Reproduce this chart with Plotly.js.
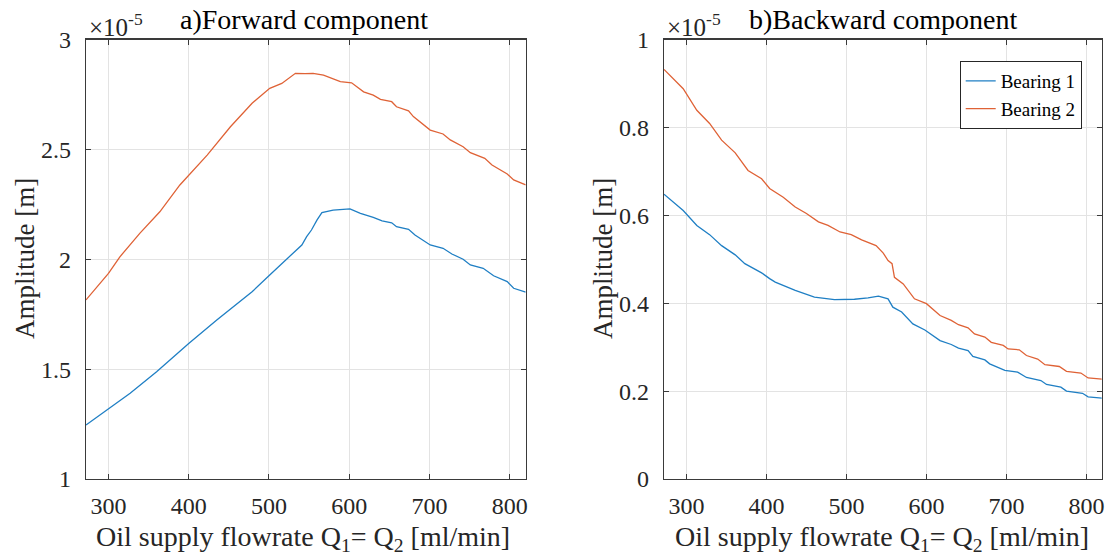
<!DOCTYPE html>
<html>
<head>
<meta charset="utf-8">
<script src="https://cdn.plot.ly/plotly-3.0.1.min.js"></script>
<style>
  html, body { margin: 0; padding: 0; background: #ffffff; }
  #chart { width: 1106px; height: 560px; }
</style>
</head>
<body>
<div id="chart"></div>
<script>
// ---------- DATA (amplitudes in units of 1e-5 m) ----------
var seriesNames = ["Bearing 1", "Bearing 2"];

// a) Forward component
var fwdX1 = [272, 298, 327, 360, 400, 435, 479, 500, 522, 541, 547, 553, 560, 566, 580, 601, 614, 630, 641, 653, 659, 674, 682, 701, 717, 728, 742, 751, 767, 780, 797, 805, 820];
var fwdB1 = [1.246, 1.314, 1.390, 1.488, 1.617, 1.724, 1.852, 1.925, 2.000, 2.065, 2.103, 2.133, 2.179, 2.212, 2.224, 2.229, 2.209, 2.191, 2.175, 2.166, 2.148, 2.136, 2.110, 2.065, 2.050, 2.024, 2.000, 1.974, 1.959, 1.925, 1.898, 1.868, 1.850];

var fwdX2 = [272, 294, 300, 314, 339, 364, 389, 423, 452, 479, 501, 516, 533, 545, 555, 568, 589, 603, 618, 630, 639, 653, 659, 674, 680, 701, 717, 726, 742, 751, 769, 778, 797, 805, 820];
var fwdB2 = [1.815, 1.913, 1.936, 2.010, 2.118, 2.216, 2.338, 2.474, 2.603, 2.710, 2.778, 2.800, 2.846, 2.845, 2.846, 2.838, 2.808, 2.803, 2.762, 2.747, 2.728, 2.717, 2.694, 2.675, 2.649, 2.588, 2.570, 2.543, 2.512, 2.485, 2.459, 2.429, 2.388, 2.361, 2.338];

// b) Backward component
var bwdX1 = [272, 296, 313, 329, 344, 361, 373, 394, 404, 411, 436, 460, 485, 510, 527, 540, 552, 558, 569, 583, 598, 617, 631, 640, 652, 658, 673, 679, 698, 714, 725, 743, 750, 768, 775, 795, 802, 820];
var bwdB1 = [0.648, 0.611, 0.577, 0.556, 0.531, 0.510, 0.490, 0.469, 0.456, 0.448, 0.429, 0.414, 0.408, 0.409, 0.412, 0.416, 0.410, 0.391, 0.380, 0.353, 0.339, 0.315, 0.306, 0.298, 0.292, 0.279, 0.271, 0.262, 0.247, 0.243, 0.231, 0.224, 0.215, 0.209, 0.200, 0.195, 0.187, 0.184];

var bwdX2 = [272, 296, 313, 329, 344, 361, 377, 394, 404, 421, 436, 450, 465, 477, 492, 506, 519, 537, 546, 552, 557, 560, 571, 585, 600, 617, 631, 640, 652, 660, 673, 681, 696, 702, 716, 725, 739, 748, 766, 775, 793, 802, 820];
var bwdB2 = [0.932, 0.888, 0.839, 0.809, 0.771, 0.742, 0.702, 0.683, 0.661, 0.641, 0.619, 0.604, 0.585, 0.577, 0.562, 0.556, 0.544, 0.531, 0.514, 0.497, 0.490, 0.459, 0.444, 0.410, 0.399, 0.372, 0.361, 0.351, 0.344, 0.330, 0.323, 0.311, 0.304, 0.296, 0.294, 0.281, 0.273, 0.260, 0.256, 0.245, 0.241, 0.230, 0.227];

var xTickVals = [300, 400, 500, 600, 700, 800];
var fwdTickVals = [1, 1.5, 2, 2.5, 3];
var bwdTickVals = [0, 0.2, 0.4, 0.6, 0.8, 1];

var titleA = "a)Forward component";
var titleB = "b)Backward component";
var xTitle = "Oil supply flowrate Q<sub>1</sub>= Q<sub>2</sub> [ml/min]";
var yTitle = "Amplitude [m]";
var expLabel = "×10<sup>-5</sup>";

// ---------- STYLE ----------
var W = 1106, H = 560;
var FONT = "Liberation Serif";
var INK = "#262626";
var colB1 = "#1f7fc4";
var colB2 = "#df6236";
function px(x) { return x / W; }
function py(y) { return 1 - y / H; }

function ax(extra) {
  var base = {
    showline: true, linecolor: "#3a3a3a", linewidth: 1.2, mirror: "ticks",
    ticks: "inside", ticklen: 5, tickwidth: 1, tickcolor: "#3a3a3a",
    showgrid: true, gridcolor: "#e3e3e3", gridwidth: 1,
    zeroline: false, automargin: false, fixedrange: true,
    tickfont: { family: FONT, size: 24, color: INK }
  };
  return Object.assign(base, extra);
}

var traces = [
  { x: fwdX1, y: fwdB1, xaxis: "x", yaxis: "y", type: "scatter", mode: "lines", name: seriesNames[0], showlegend: false, line: { color: colB1, width: 1.3 } },
  { x: fwdX2, y: fwdB2, xaxis: "x", yaxis: "y", type: "scatter", mode: "lines", name: seriesNames[1], showlegend: false, line: { color: colB2, width: 1.3 } },
  { x: bwdX1, y: bwdB1, xaxis: "x2", yaxis: "y2", type: "scatter", mode: "lines", name: seriesNames[0], showlegend: true, line: { color: colB1, width: 1.3 } },
  { x: bwdX2, y: bwdB2, xaxis: "x2", yaxis: "y2", type: "scatter", mode: "lines", name: seriesNames[1], showlegend: true, line: { color: colB2, width: 1.3 } }
];

var yDom = [py(479), py(39.5)];

var layout = {
  width: W, height: H,
  margin: { l: 0, r: 0, t: 0, b: 0, pad: 0 },
  paper_bgcolor: "#ffffff", plot_bgcolor: "#ffffff",
  font: { family: FONT, size: 22, color: INK },
  xaxis: ax({ domain: [px(86), px(525.7)], range: [272, 820], tickvals: xTickVals, anchor: "y", ticklabelstandoff: 5 }),
  yaxis: ax({ domain: yDom, range: [1, 3], tickvals: fwdTickVals, anchor: "x", ticklabelstandoff: 9 }),
  xaxis2: ax({ domain: [px(664), px(1101.7)], range: [272, 819], tickvals: xTickVals, anchor: "y2", ticklabelstandoff: 5 }),
  yaxis2: ax({ domain: yDom, range: [0, 1], tickvals: bwdTickVals, anchor: "x2", ticklabelstandoff: 9 }),
  showlegend: true,
  legend: {
    x: px(1081.7), y: py(61), xanchor: "right", yanchor: "top",
    bgcolor: "#ffffff", bordercolor: INK, borderwidth: 1,
    font: { family: FONT, size: 19, color: "#000000" },
    tracegroupgap: 0, itemwidth: 30
  },
  annotations: [
    { text: titleA, xref: "paper", yref: "paper", x: px(304), y: py(20), xanchor: "center", yanchor: "middle", showarrow: false, font: { family: FONT, size: 28, color: "#000000" } },
    { text: titleB, xref: "paper", yref: "paper", x: px(883), y: py(20), xanchor: "center", yanchor: "middle", showarrow: false, font: { family: FONT, size: 28, color: "#000000" } },
    { text: expLabel, xref: "paper", yref: "paper", x: px(87), y: py(25), xanchor: "left", yanchor: "middle", showarrow: false, font: { family: FONT, size: 25, color: INK } },
    { text: expLabel, xref: "paper", yref: "paper", x: px(665), y: py(25), xanchor: "left", yanchor: "middle", showarrow: false, font: { family: FONT, size: 25, color: INK } },
    { text: xTitle, xref: "paper", yref: "paper", x: px(303), y: py(538), xanchor: "center", yanchor: "middle", showarrow: false, font: { family: FONT, size: 28, color: INK } },
    { text: xTitle, xref: "paper", yref: "paper", x: px(882), y: py(538), xanchor: "center", yanchor: "middle", showarrow: false, font: { family: FONT, size: 28, color: INK } },
    { text: yTitle, xref: "paper", yref: "paper", x: px(25), y: py(259), xanchor: "center", yanchor: "middle", textangle: -90, showarrow: false, font: { family: FONT, size: 27, color: INK } },
    { text: yTitle, xref: "paper", yref: "paper", x: px(603), y: py(259), xanchor: "center", yanchor: "middle", textangle: -90, showarrow: false, font: { family: FONT, size: 27, color: INK } }
  ]
};

Plotly.newPlot("chart", traces, layout, { staticPlot: true, displayModeBar: false });
</script>
</body>
</html>
